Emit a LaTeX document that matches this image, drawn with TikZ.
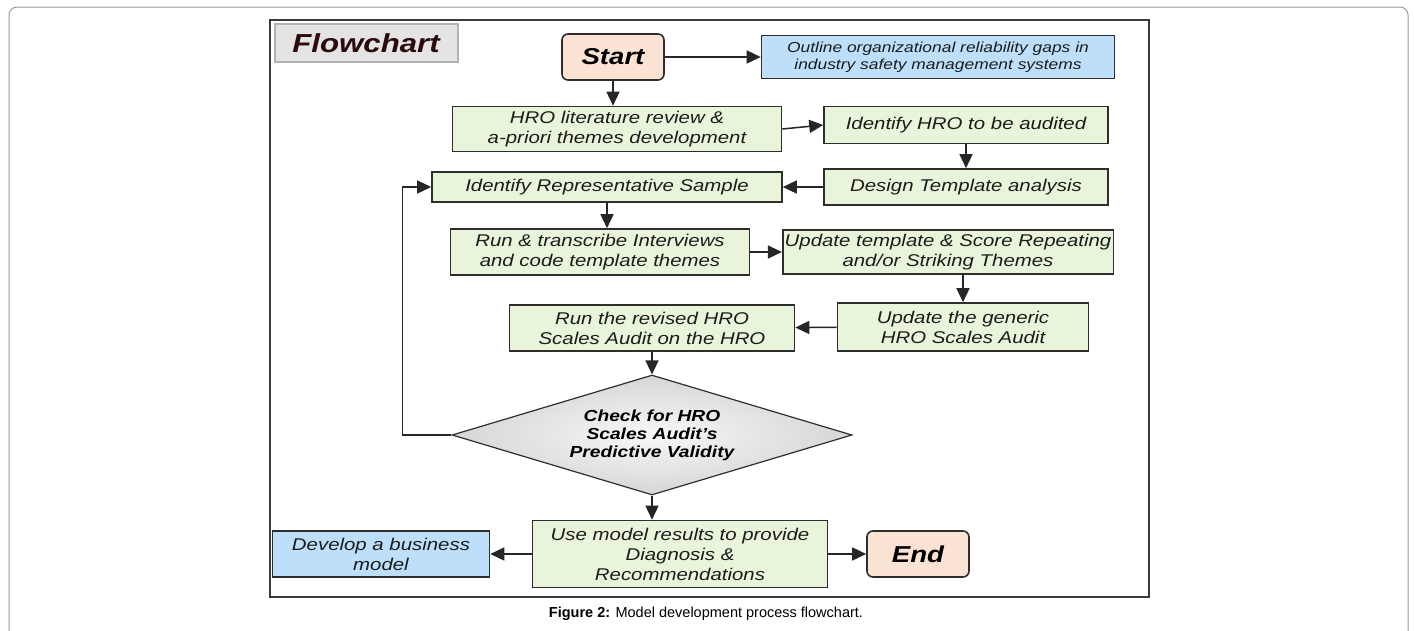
\documentclass[tikz,border=0pt]{standalone}
\usepackage{fontspec}
\setmainfont{Liberation Sans}
\newfontfamily\boxfont[FakeStretch=1.2]{Liberation Sans}
\usepackage{xcolor}
\usetikzlibrary{positioning,shapes.geometric,arrows.meta}

\definecolor{pagegray}{HTML}{9A9A9A}
\definecolor{framegray}{HTML}{3A3A3A}
\definecolor{edgegray}{HTML}{2E2E2E}
\definecolor{boxgreen}{HTML}{E8F5DA}
\definecolor{boxblue}{HTML}{BDDFFA}
\definecolor{boxpeach}{HTML}{FBE3D4}
\definecolor{labelgray}{HTML}{E4E4E4}
\definecolor{labeltext}{HTML}{2A0A0A}
\definecolor{textgray}{HTML}{1C1C1C}

\begin{document}
\begin{tikzpicture}[x=1pt, y=-1pt,
    box/.style={draw=edgegray, line width=1.6pt, fill=boxgreen, align=center, inner sep=2pt,
        text=textgray, font=\boxfont\itshape\fontsize{17}{20}\selectfont},
    bluebox/.style={box, fill=boxblue},
    term/.style={box, fill=boxpeach, rounded corners=6pt, minimum width=102pt, minimum height=46pt,
        text=black, font=\boxfont\bfseries\itshape\fontsize{23}{26}\selectfont},
    decision/.style={diamond, draw=edgegray, line width=1.2pt, inner color=gray!6, outer color=gray!32,
        aspect=3.3, inner sep=0pt, minimum width=400pt, minimum height=120pt, align=center,
        font=\boxfont\bfseries\itshape\fontsize{16}{18}\selectfont},
    arrow/.style={-{Triangle[length=14pt,width=13pt]}, line width=1.5pt, draw=black!85}]

    \useasboundingbox (0,0) rectangle (1414,630);

    % Page and figure frames
    \draw[pagegray, line width=1pt, rounded corners=8pt] (9,632) |- (1408,7) -- (1408,632);
    \draw[framegray, line width=1.6pt] (270,20) rectangle (1149,597);

    % Title tab
    \node[draw=gray!60, line width=2pt, fill=labelgray, minimum width=183pt, minimum height=38pt,
        text=labeltext, font=\boxfont\bfseries\itshape\fontsize{26}{28}\selectfont] (title) at (366,43) {Flowchart};

    % Start and gaps
    \node[term] (start) at (613,57) {Start};
    \node[bluebox, minimum width=353pt, minimum height=43pt, font=\boxfont\itshape\fontsize{14.5}{17.5}\selectfont]
        (gaps) at (938,57) {Outline organizational reliability gaps in\\industry safety management systems};

    % Literature and HRO selection
    \node[box, minimum width=329pt, minimum height=45pt] (review) at (617,129) {HRO literature review \&\\a-priori themes development};
    \node[box, minimum width=284pt, minimum height=37pt] (audited) at (966,125) {Identify HRO to be audited};
    \node[box, minimum width=284pt, minimum height=36pt] (design) at (966,187) {Design Template analysis};
    \node[box, minimum width=350pt, minimum height=30pt] (sample) at (607,187) {Identify Representative Sample};

    % Interviews and template
    \node[box, minimum width=299pt, minimum height=46pt] (interviews) at (600,252) {Run \& transcribe Interviews\\and code template themes};
    \node[box, minimum width=316pt, minimum height=44pt] (template) at (948,252) {Update template \& Score Repeating\\and/or Striking Themes};
    \node[box, minimum width=251pt, minimum height=48pt] (generic) at (963,327) {Update the generic\\HRO Scales Audit};
    \node[box, minimum width=285pt, minimum height=46pt] (revised) at (652,328) {Run the revised HRO\\Scales Audit on the HRO};

    % Validity check
    \node[decision] (check) at (652,435) {Check for HRO\\Scales Audit’s\\Predictive Validity};

    % Results
    \node[box, minimum width=295pt, minimum height=67pt] (results) at (680,554) {Use model results to provide\\Diagnosis \&\\Recommendations};
    \node[bluebox, minimum width=217pt, minimum height=46pt] (business) at (381,554) {Develop a business\\model};
    \node[term] (end) at (918,554) {End};

    % Connect the steps
    \draw[arrow] (start) -- (gaps);
    \draw[arrow] (start.south) -- (start.south |- review.north);
    \draw[arrow] (review.east) -- (audited.west);
    \draw[arrow] (audited) -- (design);
    \draw[arrow] (design) -- (sample);
    \draw[arrow] (sample.south) -- (sample.south |- interviews.north);
    \draw[arrow] (interviews.east) -- (template.west);
    \draw[arrow] (generic.north |- template.south) -- (generic.north);
    \draw[arrow] (generic) -- (revised);
    \draw[arrow] (revised) -- (check);
    \draw[arrow] (check.south) -- (check.south |- results.north);
    \draw[arrow] (check.west) -- ++(-49,0) |- (sample.west);
    \draw[arrow] (results) -- (business);
    \draw[arrow] (results) -- (end);

    % Caption
    \node[font=\fontsize{14.5}{17}\selectfont] (caption) at (706,614) {\textbf{Figure 2:} Model development process flowchart.};
\end{tikzpicture}
\end{document}
